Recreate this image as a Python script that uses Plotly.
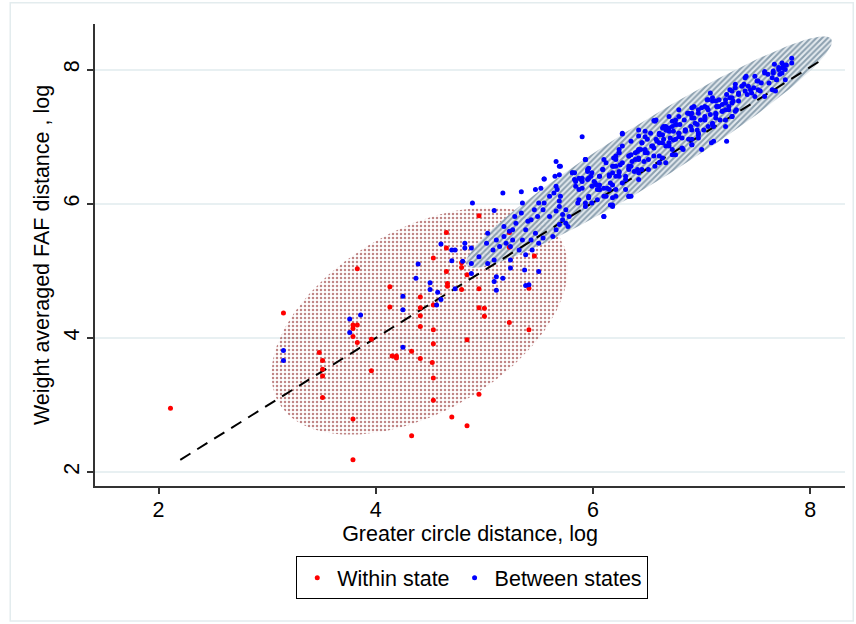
import numpy as np
import plotly.graph_objects as go

# Within state pairs (log great circle distance, log FAF distance)
within_x = [2.11, 3.15, 3.48, 3.51, 3.51, 3.51, 3.51, 3.83, 3.79, 3.83, 3.79, 3.79, 3.83, 3.96, 3.96,
            3.79, 3.79, 4.13, 4.13, 4.15, 4.19, 4.19, 4.33, 4.33,
            4.95, 4.65, 4.65, 5.23, 5.23, 4.53, 4.79, 4.79, 4.65, 4.84, 4.66, 4.66, 4.79, 4.95,
            4.41, 4.53, 4.41, 4.41, 4.41, 4.53, 4.95, 5.00, 5.00, 5.23, 5.41, 5.41, 5.46,
            4.84, 4.53, 4.41, 4.52, 4.53, 4.53, 4.95, 4.70, 4.84]
within_y = [2.95, 4.37, 3.78, 3.66, 3.53, 3.43, 3.11, 5.03, 4.19, 4.19, 4.14, 4.02, 3.93, 3.98, 3.51,
            2.79, 2.18, 4.76, 4.46, 3.73, 3.73, 3.70, 3.80, 2.54,
            5.82, 5.57, 5.34, 5.57, 5.35, 5.19, 5.12, 5.05, 4.99, 4.94, 4.81, 4.77, 4.72, 4.73,
            4.61, 4.49, 4.45, 4.33, 4.17, 4.12, 4.45, 4.44, 4.32, 4.23, 4.74, 4.12, 5.22,
            3.97, 3.91, 3.69, 3.63, 3.40, 3.07, 3.16, 2.82, 2.69]

# Between states pairs
between_x = [7.83, 7.83, 7.78, 7.74, 7.75, 7.67, 7.71, 7.66, 7.61, 7.58, 7.72, 7.77, 7.69, 7.65,
             7.55, 7.51, 7.48, 7.43, 7.40, 7.46, 7.39, 7.41, 7.54, 7.58, 7.65, 7.68,
             7.31, 7.28, 7.34, 7.26, 7.22, 7.19, 7.25, 7.29, 7.32, 7.28, 7.22, 7.19, 7.14, 7.10,
             7.06, 7.13, 7.05, 7.08, 7.13, 7.11, 7.22, 7.23,
             6.91, 6.97, 6.88, 6.93, 6.79, 6.76, 6.73, 6.68, 6.64, 6.61, 6.65, 6.70, 6.76, 6.79,
             6.85, 6.91, 6.96, 6.97, 6.91, 6.88, 6.82, 6.73, 6.67, 6.61, 6.56, 6.58, 6.53, 6.48,
             6.45, 6.50, 6.44, 6.39, 6.42, 6.47, 6.36, 6.33, 6.33, 6.38, 6.42, 6.51, 6.61, 6.64,
             6.73, 6.99, 7.03, 7.02, 7.10, 7.11, 6.56, 6.80,
             6.24, 6.21, 6.19, 6.18, 6.24, 6.16, 6.21, 6.27, 6.30, 6.12, 6.09, 6.06, 6.03, 5.98,
             5.95, 5.93, 5.99, 6.06, 6.10, 6.18, 6.13, 6.30, 6.35, 6.33, 6.27, 5.96, 5.93, 5.90,
             5.84, 5.87, 5.83, 6.10, 6.16, 5.90,
             5.66, 5.69, 5.65, 5.66, 5.67, 5.55, 5.52, 5.47, 5.60, 5.55, 5.50, 5.46, 5.43, 5.35,
             5.34, 5.17, 4.89, 5.69, 5.66, 5.72, 5.75, 5.77, 5.69, 5.66, 5.63, 5.60, 5.54, 5.49,
             5.40, 5.38, 5.34, 5.28, 5.29, 5.26, 5.23, 5.18, 5.18, 5.11, 5.03, 5.02, 5.08, 5.14,
             5.20, 5.26, 5.35, 5.43, 5.47, 5.54, 5.50, 5.44, 5.38, 5.32, 5.24, 5.09, 5.03, 4.95,
             4.88, 4.82, 4.82, 4.88, 4.80, 5.11, 5.17, 5.24, 5.24, 5.37, 5.50, 5.41, 5.09, 5.09,
             6.27, 6.42, 6.57, 6.67, 6.70, 6.76, 6.79, 6.74, 6.85, 6.82, 6.90, 6.94, 6.97, 7.03,
             7.06, 7.13, 7.17, 7.22, 7.28, 6.61, 6.64, 6.70, 6.54, 6.45, 6.48, 6.42, 6.39, 6.35,
             6.51, 6.57, 6.45, 6.35, 6.30, 6.42, 6.24, 6.21, 6.18, 6.15, 6.24, 6.10, 6.09, 6.06,
             6.02, 5.99, 5.96, 5.93, 5.95, 5.90, 5.87, 5.83, 5.81, 6.06, 6.15, 6.21, 6.33, 6.18,
             6.10, 5.99, 5.93, 5.87, 5.75, 5.72, 5.70, 5.78, 7.09, 7.00, 6.91, 6.83, 6.76, 6.61,
             6.67, 7.28, 7.16, 7.03, 6.91, 6.70,
             7.75, 7.71, 7.66, 7.74, 7.77, 7.58, 7.62, 7.69, 7.52, 7.49, 7.40, 7.37, 7.45, 7.52,
             7.49, 7.42, 7.34, 7.31, 7.26, 7.28, 7.34, 7.23, 7.22, 7.16, 7.14, 7.08, 7.10, 7.05,
             7.19, 7.25, 7.31, 7.06, 7.13, 7.00, 6.97, 6.93, 6.91, 6.87, 6.84, 6.79, 6.77, 6.73,
             6.70, 6.74, 6.67, 6.64, 6.71, 6.79, 6.85, 6.90, 6.96, 6.91, 6.97, 7.03, 7.10,
             5.70, 5.55, 5.69, 5.81, 5.93, 5.95, 5.96, 6.01, 6.06, 6.10, 6.04, 5.89, 5.84, 5.90,
             6.12, 6.18, 6.21, 6.15, 6.21, 6.19, 6.24, 6.27, 6.27, 6.35, 6.33, 6.41, 6.42, 6.48,
             6.50, 6.55, 6.56, 6.59, 6.61, 6.42, 6.48, 6.58, 6.65, 6.41, 6.33, 6.25, 6.24, 6.33,
             6.18, 6.04, 5.96, 5.86, 5.69, 5.64,
             3.15, 3.15, 3.76, 3.86, 3.76, 4.25, 4.25, 4.25, 4.39, 4.37,
             4.60, 4.70, 4.73, 4.70, 4.50, 4.50, 4.57, 4.60, 4.56, 4.73, 5.11, 5.38, 4.88]
between_y = [8.17, 8.10, 8.07, 8.10, 8.02, 8.08, 8.00, 7.95, 7.93, 7.97, 7.93, 7.85, 7.85, 7.88,
             7.80, 7.83, 7.73, 7.75, 7.68, 7.65, 7.78, 7.90, 7.68, 7.60, 7.70, 7.68,
             7.73, 7.68, 7.63, 7.58, 7.55, 7.48, 7.45, 7.53, 7.40, 7.30, 7.25, 7.38, 7.45, 7.58,
             7.55, 7.53, 7.43, 7.33, 7.28, 7.15, 7.15, 6.93,
             7.43, 7.40, 7.35, 7.28, 7.40, 7.25, 7.15, 7.10, 7.13, 7.03, 6.96, 6.91, 6.96, 7.05,
             7.08, 7.10, 7.18, 7.03, 6.88, 6.96, 6.83, 6.81, 6.86, 6.91, 6.83, 6.96, 7.05, 7.00,
             6.91, 6.76, 6.81, 6.76, 6.68, 6.63, 6.63, 6.71, 6.56, 6.48, 6.46, 6.51, 6.61, 6.68,
             6.73, 7.25, 7.30, 7.10, 7.20, 6.93, 7.24, 7.18,
             6.76, 6.66, 6.56, 6.46, 6.41, 6.31, 6.21, 6.31, 6.36, 6.61, 6.51, 6.41, 6.28, 6.41,
             6.51, 6.66, 6.26, 6.21, 6.11, 6.09, 6.23, 6.21, 6.11, 6.51, 6.61, 6.11, 6.01, 6.33,
             6.26, 6.38, 6.46, 5.81, 5.98, 7.00,
             6.63, 6.56, 6.41, 6.26, 6.21, 6.37, 6.23, 6.21, 6.11, 6.01, 6.01, 5.91, 5.76, 6.01,
             6.18, 6.16, 6.01, 5.96, 5.89, 5.84, 5.71, 5.66, 5.69, 5.61, 5.51, 5.81, 5.91, 5.81,
             5.74, 5.61, 5.86, 5.81, 5.71, 5.61, 5.59, 5.66, 5.51, 5.46, 5.56, 5.41, 5.31, 5.36,
             5.41, 5.46, 5.46, 5.46, 5.56, 5.49, 5.41, 5.31, 5.24, 5.31, 5.36, 5.16, 5.11, 5.21,
             5.34, 5.41, 5.34, 5.11, 5.14, 4.91, 4.89, 5.16, 5.04, 5.01, 4.99, 4.79, 4.84, 5.90,
             7.04, 7.10, 7.23, 7.15, 7.08, 7.18, 7.05, 6.95, 7.10, 6.98, 7.33, 7.20, 7.05, 7.28,
             7.15, 7.35, 7.25, 7.40, 7.30, 7.05, 6.91, 6.86, 6.86, 6.91, 6.76, 6.81, 6.66, 6.73,
             6.66, 6.56, 6.51, 6.56, 6.41, 6.36, 6.81, 6.71, 6.56, 6.41, 6.46, 6.66, 6.51, 6.41,
             6.31, 6.46, 6.53, 6.66, 6.36, 6.38, 6.21, 6.36, 6.46, 6.21, 6.21, 6.11, 6.11, 5.96,
             5.81, 6.01, 5.96, 6.06, 5.91, 5.76, 6.11, 5.81, 6.91, 6.81, 6.88, 6.81, 6.73, 6.71,
             6.61, 7.50, 7.45, 7.45, 7.35, 7.30,
             8.07, 8.03, 7.98, 7.95, 8.00, 7.95, 7.80, 7.85, 7.83, 7.90, 7.88, 7.75, 7.70, 7.70,
             7.60, 7.63, 7.65, 7.78, 7.70, 7.58, 7.53, 7.63, 7.50, 7.55, 7.45, 7.65, 7.53, 7.55,
             7.38, 7.40, 7.38, 7.40, 7.33, 7.43, 7.35, 7.45, 7.28, 7.35, 7.25, 7.30, 7.18, 7.23,
             7.13, 7.08, 7.10, 7.03, 6.98, 7.00, 7.10, 7.15, 7.10, 6.96, 6.98, 7.25, 7.18,
             6.56, 6.37, 6.43, 6.46, 6.66, 6.48, 6.38, 6.33, 6.28, 6.23, 6.21, 6.36, 6.33, 6.23,
             6.11, 6.28, 6.41, 6.43, 6.56, 6.68, 6.76, 6.86, 7.05, 6.93, 6.71, 6.78, 6.66, 6.81,
             6.96, 6.86, 6.71, 6.93, 6.61, 7.01, 7.08, 7.25, 7.15, 6.51, 6.53, 6.58, 6.48, 6.11,
             5.98, 6.06, 6.09, 6.01, 6.04, 6.16,
             3.81, 3.66, 4.28, 4.34, 4.08, 4.62, 4.42, 3.86, 5.10, 4.89,
             5.40, 5.31, 5.31, 5.15, 4.82, 4.72, 4.68, 4.57, 4.49, 4.73, 4.71, 4.78, 4.96]

# fitted line y = a + b*x over the plotted span
fit_a = -0.042
fit_b = 1.01
fit_span = [2.2, 8.12]

# ellipse parameters: x = cx + A cos t, y = cy + B cos t + C sin t
ell_within = dict(cx=4.405, cy=4.25, A=1.365, B=0.795, C=1.497)
ell_between = dict(cx=6.515, cy=6.77, A=1.685, B=1.65, C=0.51)

FONT = "Liberation Sans, Arial, Helvetica, sans-serif"
FS = 21.5


def ellipse(p):
    t = np.linspace(0, 2 * np.pi, 200)
    return p["cx"] + p["A"] * np.cos(t), p["cy"] + p["B"] * np.cos(t) + p["C"] * np.sin(t)


fig = go.Figure()

ex, ey = ellipse(ell_within)
fig.add_trace(go.Scatter(x=ex, y=ey, mode="lines", fill="toself", line=dict(width=0),
                         fillcolor="rgba(0,0,0,0)",
                         fillpattern=dict(shape=".", fgcolor="#8b2020", bgcolor="rgba(0,0,0,0)",
                                          size=4, solidity=0.3, fgopacity=0.55),
                         showlegend=False, hoverinfo="skip"))

ex, ey = ellipse(ell_between)
fig.add_trace(go.Scatter(x=ex, y=ey, mode="lines", fill="toself", line=dict(width=0),
                         fillcolor="rgba(0,0,0,0)",
                         fillpattern=dict(shape="/", fgcolor="#34566f", bgcolor="rgba(225,232,238,0.9)",
                                          size=4, solidity=0.5),
                         showlegend=False, hoverinfo="skip"))

fx = np.array(fit_span)
fig.add_trace(go.Scatter(x=fx, y=fit_a + fit_b * fx, mode="lines",
                         line=dict(color="black", width=2, dash="12px,8px"),
                         showlegend=False, hoverinfo="skip"))

fig.add_trace(go.Scatter(x=within_x, y=within_y, mode="markers", name="Within state",
                         marker=dict(color="#ff0000", size=5)))
fig.add_trace(go.Scatter(x=between_x, y=between_y, mode="markers", name="Between states",
                         marker=dict(color="#0000ff", size=5)))

axis_font = dict(family=FONT, size=FS, color="black")
fig.update_layout(
    width=856, height=624,
    margin=dict(l=95, r=11, t=24, b=138),
    paper_bgcolor="white", plot_bgcolor="white",
    font=dict(family=FONT, size=FS, color="black"),
    xaxis=dict(range=[1.415, 8.32], tickvals=[2, 4, 6, 8], showgrid=False, zeroline=False,
               showline=True, linecolor="#333333", linewidth=1.5, automargin=False,
               ticks="outside", ticklen=6, tickcolor="#333333", tickwidth=1.5,
               tickfont=axis_font, ticklabelstandoff=-3,
               title=dict(text="Greater circle distance, log", font=axis_font, standoff=0)),
    yaxis=dict(range=[1.79, 8.68], tickvals=[2, 4, 6, 8], showgrid=True, gridcolor="#e8f0f2",
               gridwidth=1.5, zeroline=False, automargin=False,
               showline=True, linecolor="#333333", linewidth=1.5,
               ticks="outside", ticklen=6, tickcolor="#333333", tickwidth=1.5,
               tickangle=-90, tickfont=axis_font,
               title=dict(text="Weight averaged FAF distance , log", font=axis_font, standoff=4)),
    legend=dict(orientation="h", x=0.503, xanchor="center", y=-0.152, yanchor="top",
                bordercolor="black", borderwidth=1, font=dict(family=FONT, size=FS),
                itemsizing="trace"),
    shapes=[dict(type="rect", xref="paper", yref="paper", x0=-0.113, x1=1.011, y0=-0.292, y1=1.046,
                 line=dict(color="#e3ecee", width=1.5), layer="below")],
)

# the page body has a default margin; drop it so the figure sits at the window corner
fig.write_html("out.html", config={"displayModeBar": False},
               post_script="document.body.style.margin='0';")
